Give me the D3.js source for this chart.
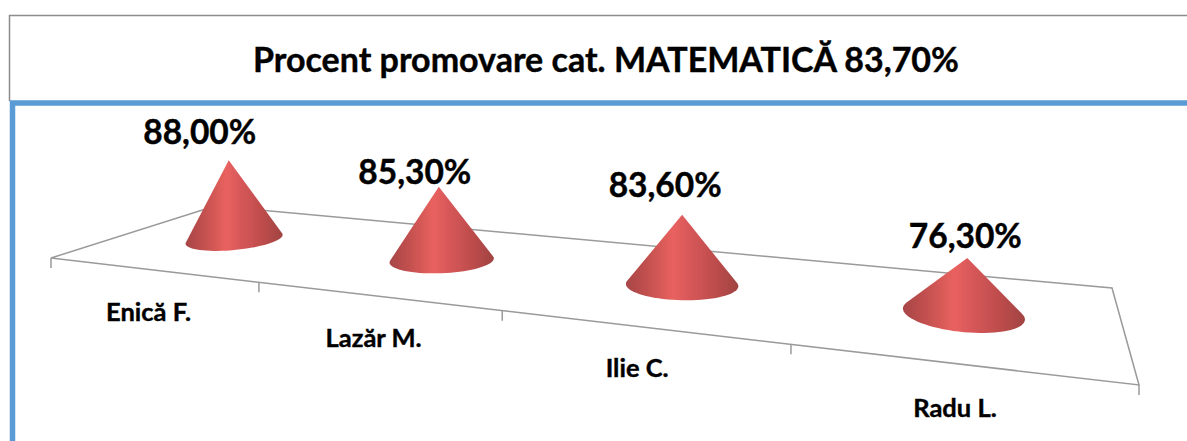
<!DOCTYPE html>
<html>
  <head>
    <meta charset="UTF-8">
    <title>Procent promovare</title>
    <script src="https://d3js.org/d3.v7.min.js"></script>
    <style>
      html, body { margin: 0; background: #fff; }
      text { font-family: Lato, "Open Sans", sans-serif; font-weight: 700; fill: #000; stroke: #000; stroke-width: 0.4px; }
    </style>
  </head>
  <body>
    <svg width="1187" height="441"></svg>

    <script>

const titleText = "Procent promovare cat. MATEMATICĂ 83,70%";
const teachers = ["Enică F.", "Lazăr M.", "Ilie C.", "Radu L."];
const percents = [88.0, 85.3, 83.6, 76.3];
const percentLabels = ["88,00%", "85,30%", "83,60%", "76,30%"];

// hand placed label shifts, same as the manual layout in the original
const labelShift = [[-29, -16], [-24, -3], [-17, -18], [-2, -10]];
const nameShift = [[-2.5, 51], [-2, 51], [-3, 50], [-1.5, 53]];

const svg = d3.select("svg");
const width = +svg.attr("width");
const height = +svg.attr("height");

// frame
svg.append("path")
  .attr("d", `M${width},15.5H9.5V101`)
  .attr("fill", "none")
  .attr("stroke", "#8c8c8c")
  .attr("stroke-width", 1.5);
svg.append("path")
  .attr("d", `M${width},103H12.5V${height}`)
  .attr("fill", "none")
  .attr("stroke", "#5b9bd5")
  .attr("stroke-width", 5.5);

svg.append("text")
  .attr("x", 606)
  .attr("y", 72)
  .attr("text-anchor", "middle")
  .attr("font-size", 34)
  .text(titleText);

// floor of the 3d chart: unit square -> screen, corners
const floor = [[51, 258], [1139, 385], [1112, 288], [215, 206]];

function homography(q) {
  const [[x0, y0], [x1, y1], [x2, y2], [x3, y3]] = q;
  const dx1 = x1 - x2, dx2 = x3 - x2, sx = x0 - x1 + x2 - x3;
  const dy1 = y1 - y2, dy2 = y3 - y2, sy = y0 - y1 + y2 - y3;
  const den = dx1 * dy2 - dx2 * dy1;
  const g = (sx * dy2 - dx2 * sy) / den;
  const h = (dx1 * sy - sx * dy1) / den;
  const a = x1 - x0 + g * x1, b = x3 - x0 + h * x3;
  const d = y1 - y0 + g * y1, e = y3 - y0 + h * y3;
  return (u, v) => {
    const w = g * u + h * v + 1;
    return [(a * u + b * v + x0) / w, (d * u + e * v + y0) / w];
  };
}
const project = homography(floor);

const x = d3.scaleBand().domain(teachers).range([0, 1]);
const coneHeight = d3.scaleLinear().domain([48, 88]).range([0, 79]);
const baseRadius = d3.scaleLinear().domain([232, 962]).range([48.5, 61]);
const depth = 0.5;

// gradient
const grad = svg.append("defs").append("linearGradient")
  .attr("id", "coneFill");
[[0, "#a84648"], [0.2, "#c4514f"], [0.42, "#e9625f"], [0.55, "#d9585a"], [0.8, "#bd4c4b"], [1, "#a04342"]]
  .forEach(s => grad.append("stop").attr("offset", s[0]).attr("stop-color", s[1]));
svg.select("defs").append("filter").attr("id", "soft")
  .append("feGaussianBlur").attr("stdDeviation", 0.6);

// floor outline
const line = d3.line();
svg.append("path")
  .attr("d", line(floor) + "Z")
  .attr("fill", "none")
  .attr("stroke", "#9a9a9a")
  .attr("stroke-width", 1.5);

// ticks along the front edge
const tickEnds = teachers.map(t => x(t)).concat(1);
svg.append("g").selectAll("line")
  .data(tickEnds)
  .join("line")
  .attr("x1", d => project(d, 0)[0])
  .attr("x2", d => project(d, 0)[0])
  .attr("y1", d => project(d, 0)[1])
  .attr("y2", d => project(d, 0)[1] + 10)
  .attr("stroke", "#9a9a9a")
  .attr("stroke-width", 1.5);

// cones: base is an ellipse that grows toward the viewer
function conePath(name, i) {
  const u = x(name) + x.bandwidth() / 2;
  const [cx, cy] = project(u, depth);
  const rx = baseRadius(cx);
  const ry = rx * (0.2 + (cx / width) * 0.12);
  const tilt = (cx - 600) * 0.00025;
  const rim = d3.range(72).map(k => {
    const a = k / 72 * 2 * Math.PI;
    const ex = rx * Math.cos(a), ey = ry * Math.sin(a);
    return [cx + ex, cy + ey + ex * tilt];
  });
  const apex = [cx + (cx - 681) * 0.012, cy - coneHeight(percents[i])];
  return { hull: d3.polygonHull(rim.concat([apex])), apex };
}
const cones = teachers.map(conePath);

svg.append("g")
  .attr("filter", "url(#soft)")
  .selectAll("path")
  .data(cones)
  .join("path")
  .attr("d", d => line(d.hull) + "Z")
  .attr("fill", "url(#coneFill)");

// value labels
svg.append("g").selectAll("text")
  .data(percentLabels)
  .join("text")
  .attr("x", (d, i) => cones[i].apex[0] + labelShift[i][0])
  .attr("y", (d, i) => cones[i].apex[1] + labelShift[i][1])
  .attr("text-anchor", "middle")
  .attr("font-size", 33.5)
  .text(d => d);

// category names
svg.append("g").selectAll("text")
  .data(teachers)
  .join("text")
  .attr("x", (d, i) => project(x(d) + x.bandwidth() / 2, 0)[0] + nameShift[i][0])
  .attr("y", (d, i) => project(x(d) + x.bandwidth() / 2, 0)[1] + nameShift[i][1])
  .attr("text-anchor", "middle")
  .attr("font-size", 25.5)
  .text(d => d);

    </script>
  </body>
</html>
